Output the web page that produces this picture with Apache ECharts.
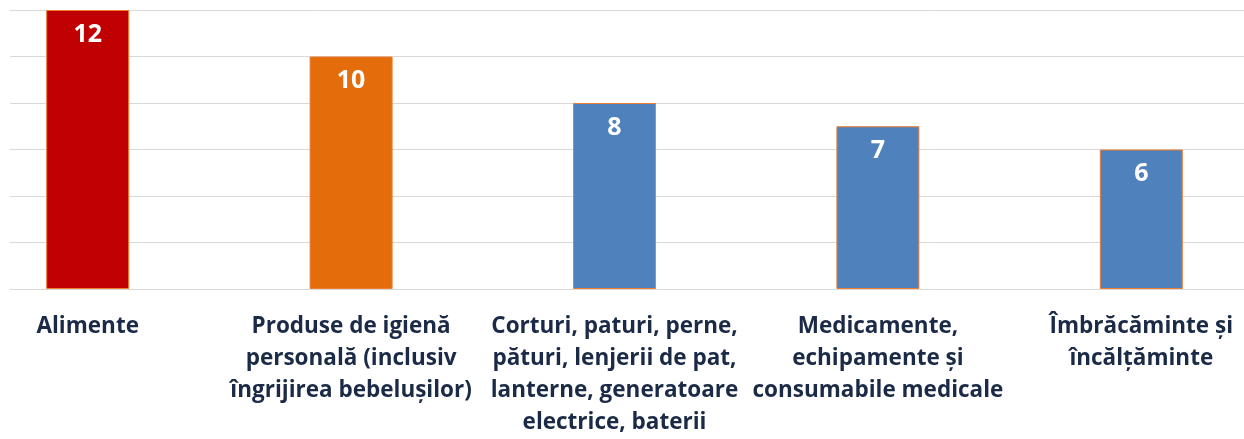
<!DOCTYPE html>
<html>
<head>
<meta charset="utf-8">
<script src="https://cdn.jsdelivr.net/npm/echarts@6/dist/echarts.min.js"></script>
<style>
  html, body { margin: 0; padding: 0; background: #fff; }
  #chart { width: 1244px; height: 439px; }
</style>
</head>
<body>
<div id="chart"></div>
<script>
var categories = [
  "Alimente",
  "Produse de igienă\npersonală (inclusiv\nîngrijirea bebelușilor)",
  "Corturi, paturi, perne,\npături, lenjerii de pat,\nlanterne, generatoare\nelectrice, baterii",
  "Medicamente,\nechipamente și\nconsumabile medicale",
  "Îmbrăcăminte și\nîncălțăminte"
];
var values = [12, 10, 8, 7, 6];
var barColors = ["#C00000", "#E46C0A", "#4F81BD", "#4F81BD", "#4F81BD"];

var chart = echarts.init(document.getElementById("chart"));

var option = {
  animation: false,
  grid: [
    // background grid for the horizontal lines
    { left: 10, right: 0, top: 10, bottom: 150, outerBoundsMode: "none" },
    // bar grid, wider than the canvas so bars sit where the original put them
    { left: -44, right: -29, top: 10, bottom: 150, outerBoundsMode: "none" }
  ],
  xAxis: [
    { gridIndex: 0, type: "category", data: categories, show: false },
    {
      gridIndex: 1,
      type: "category",
      data: categories,
      axisLine: { show: false },
      axisTick: { show: false },
      axisLabel: {
        interval: 0,
        margin: 22,
        color: "#1B2A47",
        fontFamily: "Open Sans",
        fontWeight: "bold",
        fontSize: 22.5,
        lineHeight: 32
      }
    }
  ],
  yAxis: [
    {
      gridIndex: 0,
      type: "value",
      min: 0,
      max: 12,
      interval: 2,
      axisLabel: { show: false },
      axisLine: { show: false },
      axisTick: { show: false },
      splitLine: { lineStyle: { color: "#D9D9D9", width: 1 } }
    },
    {
      gridIndex: 1,
      type: "value",
      min: 0,
      max: 12,
      interval: 2,
      show: false,
      splitLine: { show: false }
    }
  ],
  series: [
    {
      type: "bar",
      xAxisIndex: 1,
      yAxisIndex: 1,
      barWidth: 83,
      data: values.map(function (v, i) {
        return {
          value: v,
          itemStyle: { color: barColors[i], borderColor: "#ED7D31", borderWidth: 1 }
        };
      }),
      label: {
        show: true,
        position: "insideTop",
        distance: 12,
        color: "#fff",
        fontFamily: "Open Sans",
        fontWeight: "bold",
        fontSize: 25
      }
    }
  ]
};

chart.setOption(option);
</script>
</body>
</html>
